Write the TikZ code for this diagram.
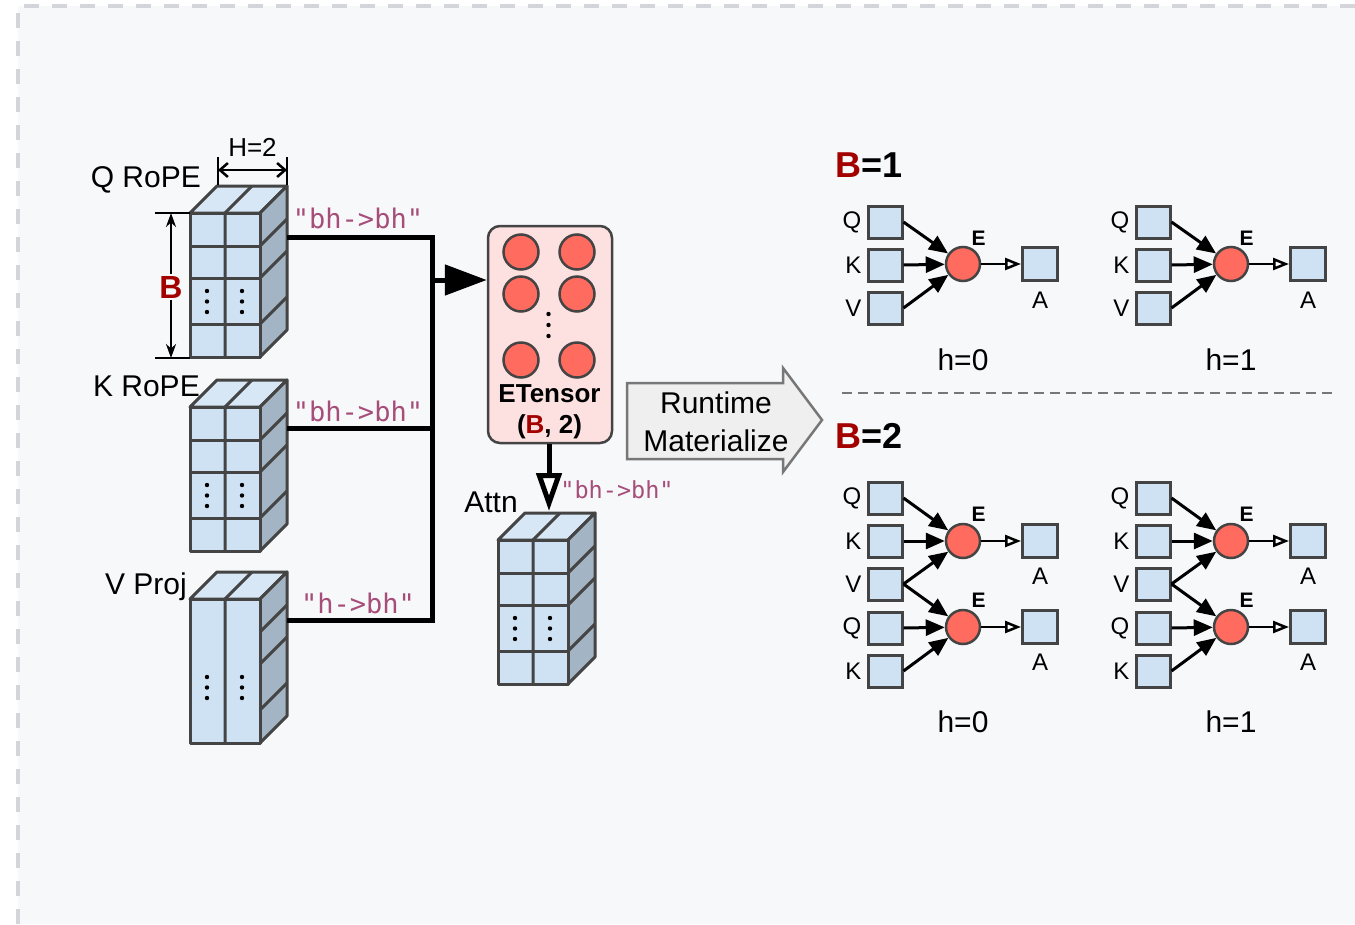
\documentclass[tikz,border=0pt]{standalone}
\usepackage{fontspec}
\setmainfont{Liberation Sans}
\newfontfamily\codefont{DejaVu Sans Mono}
\usetikzlibrary{arrows.meta}

\definecolor{canvas}{HTML}{F7F8FA}
\definecolor{framegray}{HTML}{D3D5DB}
\definecolor{edgegray}{HTML}{444444}
\definecolor{cellblue}{HTML}{CFE2F3}
\definecolor{topblue}{HTML}{D8E7F5}
\definecolor{sideblue}{HTML}{A3B4C4}
\definecolor{codepurple}{HTML}{A64D79}
\definecolor{darkred}{HTML}{A30000}
\definecolor{coral}{HTML}{FF6B5F}
\definecolor{pinkbox}{HTML}{FDE1E1}
\definecolor{arrowgray}{HTML}{EFEFEF}
\definecolor{sepgray}{HTML}{777777}

\tikzset{
  bgframe/.style={draw=framegray, line width=3.5pt, dash pattern=on 15pt off 13pt},
  cubeline/.style={draw=edgegray, line width=3pt, line join=round},
  conn/.style={line width=5pt, draw=black, line join=miter},
  lbl/.style={font=\fontsize{30}{36}\selectfont, inner sep=0pt},
  dimlbl/.style={font=\fontsize{26}{30}\selectfont, inner sep=0pt},
  code/.style={font=\codefont\fontsize{27}{32}\selectfont, text=codepurple, inner sep=0pt},
  codesmall/.style={font=\codefont\fontsize{23.5}{28}\selectfont, text=codepurple, inner sep=0pt},
  sq/.style={draw=edgegray, fill=cellblue, line width=3pt, minimum width=34pt, minimum height=32pt, inner sep=0pt},
  asq/.style={sq, minimum width=35pt, minimum height=33pt},
  enode/.style={circle, draw=edgegray, fill=coral, line width=2.5pt, minimum size=34pt, inner sep=0pt},
  glbl/.style={font=\fontsize{24}{28}\selectfont, inner sep=0pt},
  elbl/.style={font=\bfseries\fontsize{21}{24}\selectfont, inner sep=0pt},
  headlbl/.style={font=\bfseries\fontsize{36}{42}\selectfont, inner sep=0pt},
  garrow/.style={line width=3pt, -{Triangle[length=19pt,width=16pt]}},
  gout/.style={line width=2.5pt, -{Triangle[length=16pt,width=12pt,fill=white]}},
  etbox/.style={draw=edgegray, fill=pinkbox, line width=2.5pt, rounded corners=12pt, inner sep=0pt},
  dimline/.style={line width=2.5pt, draw=black},
}

% 3-D tensor block: front face origin #1,#2; #3=1 draws row lines on the front
\newcommand{\tensorcube}[3]{%
  \begin{scope}[shift={(#1,#2)}]
    \filldraw[cubeline, fill=topblue] (0,0) -- (27,-27) -- (97,-27) -- (70,0) -- cycle;
    \filldraw[cubeline, fill=sideblue] (70,0) -- (97,-27) -- (97,117) -- (70,144) -- cycle;
    \filldraw[cubeline, fill=cellblue] (0,0) rectangle (70,144);
    \draw[cubeline] (35,0) -- (35,144) (35,0) -- (62,-27);
    \foreach \r in {33,65,111} \draw[cubeline] (70,\r) -- (97,\r-27);
    \ifnum#3=1
      \foreach \r in {33,65,111} \draw[cubeline] (0,\r) -- (70,\r);
    \fi
    \foreach \cx in {17,52} \foreach \cy in {78,88.5,99} \fill (\cx,\cy) circle (2.2);
  \end{scope}}

% one head, one batch element
\newcommand{\singlehead}[2]{%
  \begin{scope}[xshift=#2]
    \node[sq] (#1q) at (885,222) {};
    \node[sq] (#1k) at (885,265) {};
    \node[sq] (#1v) at (885,308) {};
    \node[enode] (#1e) at (963,264) {};
    \node[asq] (#1a) at (1040,264) {};
    \node[glbl, anchor=east] at ([xshift=-5pt]#1q.west) {Q};
    \node[glbl, anchor=east] at ([xshift=-5pt]#1k.west) {K};
    \node[glbl, anchor=east] at ([xshift=-5pt]#1v.west) {V};
    \node[elbl] at (978.5,238) {E};
    \node[glbl] at (1040,300) {A};
    \draw[garrow] (#1q.east) -- (#1e);
    \draw[garrow] (#1k.east) -- (#1e);
    \draw[garrow] (#1v.east) -- (#1e);
    \draw[gout] (#1e) -- (#1a);
  \end{scope}}

% one head, two batch elements sharing V
\newcommand{\doublehead}[2]{%
  \begin{scope}[xshift=#2]
    \node[sq] (#1q) at (885,498) {};
    \node[sq] (#1k) at (885,541) {};
    \node[sq] (#1v) at (885,584) {};
    \node[sq] (#1qq) at (885,628) {};
    \node[sq] (#1kk) at (885,671) {};
    \node[enode] (#1e) at (963,541) {};
    \node[enode] (#1ee) at (963,627) {};
    \node[asq] (#1a) at (1040,541) {};
    \node[asq] (#1aa) at (1040,627) {};
    \node[glbl, anchor=east] at ([xshift=-5pt]#1q.west) {Q};
    \node[glbl, anchor=east] at ([xshift=-5pt]#1k.west) {K};
    \node[glbl, anchor=east] at ([xshift=-5pt]#1v.west) {V};
    \node[glbl, anchor=east] at ([xshift=-5pt]#1qq.west) {Q};
    \node[glbl, anchor=east] at ([xshift=-5pt]#1kk.west) {K};
    \node[elbl] at (978.5,514) {E};
    \node[elbl] at (978.5,600) {E};
    \node[glbl] at (1040,576) {A};
    \node[glbl] at (1040,662) {A};
    \draw[garrow] (#1q.east) -- (#1e);
    \draw[garrow] (#1k.east) -- (#1e);
    \draw[garrow] (#1v.east) -- (#1e);
    \draw[garrow] (#1v.east) -- (#1ee);
    \draw[garrow] (#1qq.east) -- (#1ee);
    \draw[garrow] (#1kk.east) -- (#1ee);
    \draw[gout] (#1e) -- (#1a);
    \draw[gout] (#1ee) -- (#1aa);
  \end{scope}}

\begin{document}
\begin{tikzpicture}[x=1pt, y=-1pt]
  \useasboundingbox (0,0) rectangle (1355,924);
  \fill[white] (0,0) rectangle (1355,924);
  \fill[canvas] (18,6) rectangle (1355,924);
  \draw[bgframe] (18,924) -- (18,6) -- (1355,6);

  % ---- input tensors ----
  \tensorcube{190}{213}{1}
  \tensorcube{190}{407}{1}
  \tensorcube{190}{599}{0}

  \node[lbl, anchor=base east] (qname) at (201,187) {Q RoPE};
  \node[lbl, anchor=base east] (kname) at (200,396) {K RoPE};
  \node[lbl, anchor=base east] (vname) at (187,594) {V Proj};

  % head dimension marker
  \coordinate (hl) at (218,170);
  \coordinate (hr) at (287,170);
  \draw[dimline] (218,157) -- (218,185) (287,157) -- (287,185);
  \draw[dimline, {Straight Barb[length=8pt,width=14pt]}-{Straight Barb[length=8pt,width=14pt]}] (hl) -- (hr);
  \node[dimlbl, anchor=base] (hname) at (252.5,156) {H=2};

  % batch dimension marker
  \coordinate (bt) at (171,213);
  \coordinate (bb) at (171,358);
  \draw[dimline] (155,213) -- (190,213) (155,358) -- (190,358);
  \draw[dimline, {Stealth[length=14pt,width=10pt]}-{Stealth[length=14pt,width=10pt]}] (bt) -- (bb);
  \node[fill=canvas, inner sep=2pt, text=darkred, font=\bfseries\fontsize{32}{38}\selectfont] (bname) at (171,287) {B};

  % ---- broadcast connectors ----
  \coordinate (qout) at (287,237);
  \coordinate (qjoin) at (432,237);
  \coordinate (kout) at (287,428);
  \coordinate (kjoin) at (432,428);
  \coordinate (vout) at (287,620);
  \coordinate (vjoin) at (432,620);
  \coordinate (tap) at (432,280);
  \draw[conn] (qout) -- (qjoin) -- (vjoin) -- (vout);
  \draw[conn] (kout) -- (kjoin);

  \node[code, anchor=base] (qmap) at (358,228) {"bh->bh"};
  \node[code, anchor=base] (kmap) at (358,421) {"bh->bh"};
  \node[code, anchor=base] (vmap) at (358,613) {"h->bh"};

  % ---- ETensor ----
  \node[etbox, minimum width=124pt, minimum height=217pt] (et) at (550,334.5) {};
  \draw[conn, -{Triangle[length=42pt,width=30pt]}] (tap) -- (et.west |- tap);
  \foreach \n/\px/\py in {c1/521/252, c2/577/252, c3/521/294, c4/577/294, c5/521/360, c6/577/360}
    \node[enode, minimum size=35pt] (\n) at (\px,\py) {};
  \foreach \py in {314,325,336} \fill (548.5,\py) circle (2.2);
  \node[font=\bfseries\fontsize{26}{30}\selectfont, inner sep=0pt, anchor=base] (etname) at (549.5,402) {ETensor};
  \node[font=\bfseries\fontsize{26}{30}\selectfont, inner sep=0pt, anchor=base] (etshape) at (549.5,433) {(\textcolor{darkred}{B}, 2)};

  % ---- output tensor ----
  \tensorcube{498}{540}{1}
  \coordinate (attnin) at (549,511);
  \draw[conn, -{Triangle[open, length=38pt, width=25pt, fill=white]}] (et.south -| attnin) -- (attnin);
  \node[lbl, anchor=base] (attnname) at (491,512) {Attn};
  \node[codesmall, anchor=base] (attnmap) at (617,498) {"bh->bh"};

  % ---- runtime materialization arrow ----
  \filldraw[draw=sepgray, fill=arrowgray, line width=2.5pt, line join=miter]
    (627,383) -- (783,383) -- (783,368) -- (822,420) -- (783,472) -- (783,459) -- (627,459) -- cycle;
  \node[lbl, anchor=base] (rt1) at (716,413) {Runtime};
  \node[lbl, anchor=base] (rt2) at (716,451) {Materialize};

  % ---- materialized graphs ----
  \node[headlbl, anchor=base west] (b1) at (835,177) {\textcolor{darkred}{B}=1};
  \singlehead{p}{0}
  \singlehead{r}{268}
  \node[lbl, anchor=base] (h0a) at (963,370) {h=0};
  \node[lbl, anchor=base] (h1a) at (1231,370) {h=1};

  \coordinate (sepl) at (842,393);
  \coordinate (sepr) at (1332,393);
  \draw[draw=sepgray, line width=2.5pt, dash pattern=on 10pt off 6pt] (sepl) -- (sepr);

  \node[headlbl, anchor=base west] (b2) at (835,448) {\textcolor{darkred}{B}=2};
  \doublehead{s}{0}
  \doublehead{t}{268}
  \node[lbl, anchor=base] (h0b) at (963,732) {h=0};
  \node[lbl, anchor=base] (h1b) at (1231,732) {h=1};
\end{tikzpicture}
\end{document}
